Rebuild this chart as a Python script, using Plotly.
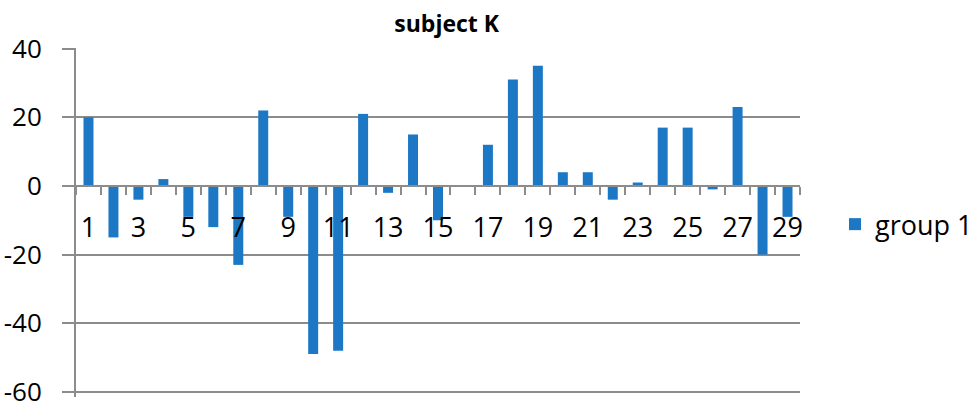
import plotly.graph_objects as go

# Subject K, group 1: one value per session
sessions = list(range(1, 30))
group1 = [20, -15, -4, 2, -9, -12, -23, 22, -9, -49,
          -48, 21, -2, 15, -10, 0, 12, 31, 35, 4,
          4, -4, 1, 17, 17, -1, 23, -20, -9]
label_vals = list(range(1, 30, 2))
y_ticks = [-60, -40, -20, 0, 20, 40]

FONT = "Open Sans"
GRID = "#8c8c8c"
BLUE = "#1c78c4"
Y_RANGE = [-61.5, 40.2]

fig = go.Figure()
fig.add_trace(go.Bar(
    x=sessions, y=group1, name="group 1",
    marker=dict(color=BLUE, line=dict(width=0)),
    width=0.4, showlegend=True,
))

fig.update_layout(
    width=975, height=405,
    margin=dict(l=76, r=175, t=48, b=8, autoexpand=False),
    paper_bgcolor="white", plot_bgcolor="white",
    font=dict(family=FONT, color="black", size=26),
    title=dict(text="<b>subject K</b>", x=0.512, xref="paper",
               y=1 - 24 / 405, yref="container", xanchor="center", yanchor="middle",
               font=dict(family=FONT, size=23, color="black")),
    legend=dict(x=835 / 975, xref="container", xanchor="left",
                y=0.494, yanchor="middle",
                font=dict(family=FONT, size=27, color="black"),
                itemwidth=30, bgcolor="rgba(0,0,0,0)"),
    bargap=0.6,
)

fig.update_yaxes(
    range=Y_RANGE, tickvals=y_ticks, ticktext=[str(v) for v in y_ticks],
    showgrid=True, gridcolor=GRID, gridwidth=1.5,
    showline=True, linecolor=GRID, linewidth=2,
    ticks="outside", ticklen=12, tickcolor=GRID, tickwidth=1.5,
    ticklabelstandoff=15, ticklabeloverflow="allow", zeroline=False,
    automargin=False,
    tickfont=dict(family=FONT, size=26, color="black"),
)

fig.update_xaxes(
    range=[0.5, 29.5], tickvals=label_vals, ticktext=[str(v) for v in label_vals],
    anchor="free", position=(0 - Y_RANGE[0]) / (Y_RANGE[1] - Y_RANGE[0]),
    showgrid=False, zeroline=False, automargin=False,
    showline=True, linecolor=GRID, linewidth=2,
    ticks="", ticklabelstandoff=18,
    tickfont=dict(family=FONT, size=27, color="black"),
    minor=dict(tick0=0.5, dtick=1, ticks="outside", ticklen=8,
               tickcolor=GRID, tickwidth=1.5, showgrid=False),
)

fig.write_html("out.html")
